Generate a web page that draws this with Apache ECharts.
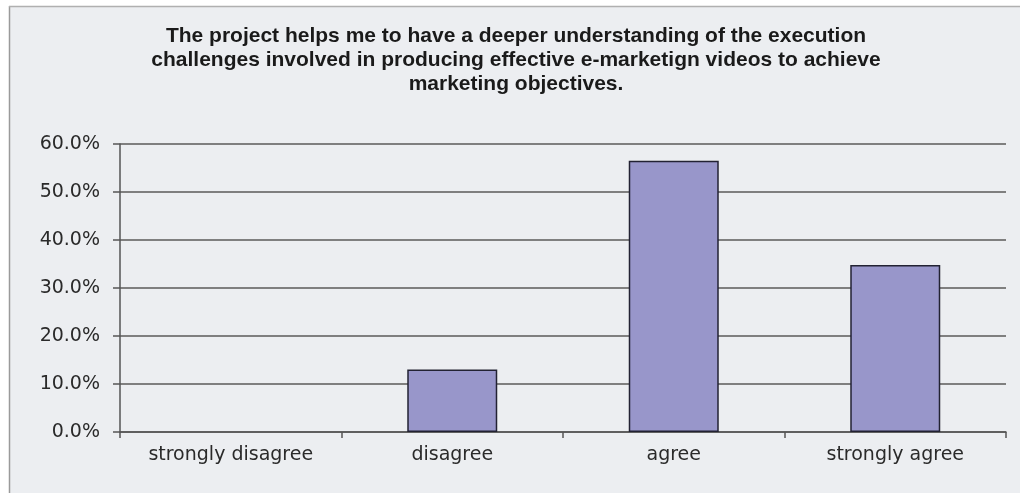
<!DOCTYPE html>
<html>
<head>
<meta charset="utf-8">
<script src="https://cdn.jsdelivr.net/npm/echarts@6/dist/echarts.min.js"></script>
<style>
html,body{margin:0;padding:0;background:#ffffff;}
#chart{width:1020px;height:493px;}
</style>
</head>
<body>
<div id="chart"></div>
<script>
const titleLines = [
  'The project helps me to have a deeper understanding of the execution',
  'challenges involved in producing effective e-marketign videos to achieve',
  'marketing objectives.'
];
const categories = ['strongly disagree', 'disagree', 'agree', 'strongly agree'];
const values = [0, 13.0, 56.5, 34.8];
const yTicks = { min: 0, max: 60, interval: 10 };

const chart = echarts.init(document.getElementById('chart'), null, { renderer: 'canvas' });
chart.setOption({
  animation: false,
  backgroundColor: '#ffffff',
  graphic: [
    { type: 'rect', z: -10, shape: { x: 9, y: 6, width: 1011, height: 487 }, style: { fill: '#ECEEF1' } },
    { type: 'line', z: -5, shape: { x1: 9.5, y1: 6, x2: 9.5, y2: 493 }, style: { stroke: '#9a9a9a', lineWidth: 1.5 } },
    { type: 'line', z: -5, shape: { x1: 9, y1: 6.5, x2: 1020, y2: 6.5 }, style: { stroke: '#b0b0b0', lineWidth: 1.5 } }
  ],
  title: {
    text: titleLines.join('\n'),
    left: 516,
    textAlign: 'center',
    top: 24,
    padding: 0,
    textStyle: {
      fontFamily: 'Liberation Sans, Arial, sans-serif',
      fontWeight: 'bold',
      fontSize: 21,
      lineHeight: 24,
      color: '#1a1a1a'
    }
  },
  grid: { left: 120, right: 14, top: 144, bottom: 61, containLabel: false },
  xAxis: {
    type: 'category',
    data: categories,
    boundaryGap: true,
    axisLine: { show: true, lineStyle: { color: '#555', width: 1.5 } },
    axisTick: { show: true, alignWithLabel: false, length: 6, lineStyle: { color: '#555', width: 1.5 } },
    axisLabel: {
      margin: 14,
      fontFamily: 'DejaVu Sans, Verdana, sans-serif',
      fontSize: 19,
      color: '#2a2a2a'
    }
  },
  yAxis: {
    type: 'value',
    min: yTicks.min,
    max: yTicks.max,
    interval: yTicks.interval,
    axisLine: { show: true, lineStyle: { color: '#555', width: 1.5 } },
    axisTick: { show: true, length: 7, lineStyle: { color: '#555', width: 1.5 } },
    axisLabel: {
      margin: 20,
      formatter: v => v.toFixed(1) + '%',
      fontFamily: 'DejaVu Sans, Verdana, sans-serif',
      fontSize: 19,
      color: '#2a2a2a'
    },
    splitLine: { show: true, lineStyle: { color: '#7f7f7f', width: 1.8 } }
  },
  series: [{
    type: 'bar',
    data: values.map(v => ({ value: v, itemStyle: v === 0 ? { borderWidth: 0 } : {} })),
    barWidth: 90,
    itemStyle: { color: '#9896CA', borderColor: '#222233', borderWidth: 1.5 }
  }]
});
</script>
</body>
</html>
